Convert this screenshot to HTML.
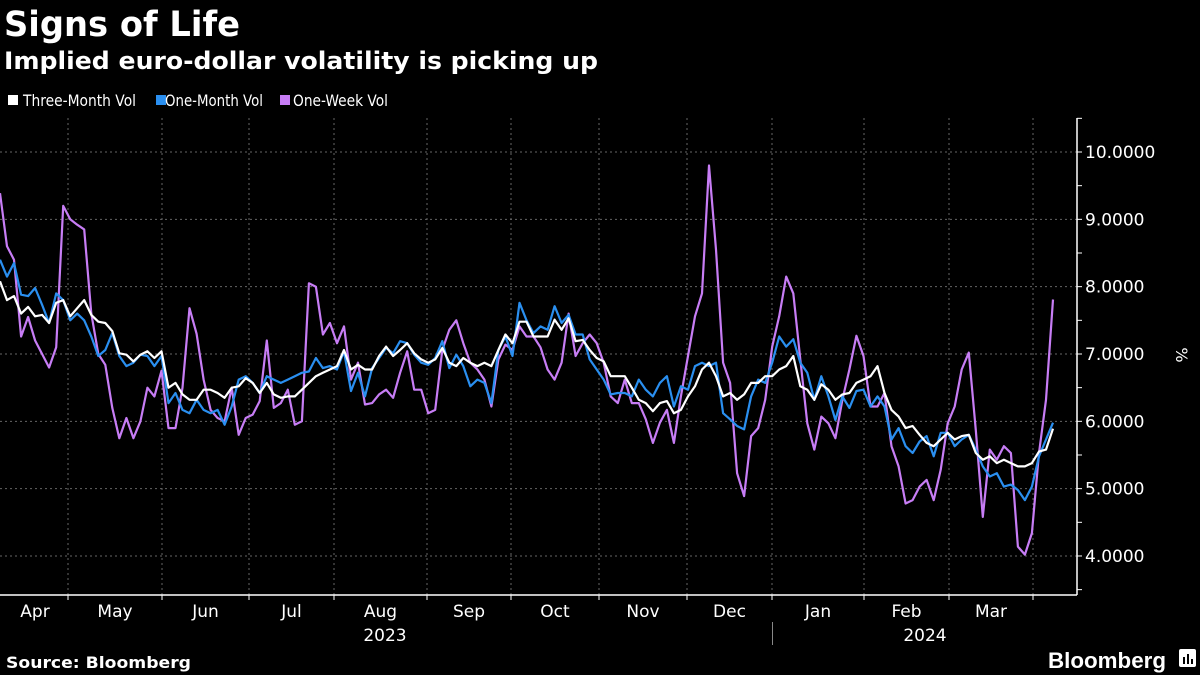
<!DOCTYPE html>
<html><head><meta charset="utf-8"><style>
html,body{margin:0;padding:0;background:#000;}
svg{display:block;font-family:"DejaVu Sans","Liberation Sans",sans-serif;}
</style></head><body>
<svg id="chart" width="1200" height="675" viewBox="0 0 1200 675" xmlns="http://www.w3.org/2000/svg">
<rect width="1200" height="675" fill="#000"/>
<text x="4" y="36" fill="#fff" font-size="35" font-weight="bold" textLength="236" lengthAdjust="spacingAndGlyphs">Signs of Life</text>
<text x="4" y="69" fill="#fff" font-size="24" font-weight="bold" textLength="594" lengthAdjust="spacingAndGlyphs">Implied euro-dollar volatility is picking up</text>
<g font-size="16" fill="#fff">
<g><rect x="8" y="95" width="10" height="10" fill="#fff"/><text x="23" y="106" textLength="113" lengthAdjust="spacingAndGlyphs">Three-Month Vol</text></g>
<g><rect x="156" y="95" width="10" height="10" fill="#2a8ff0"/><text x="165" y="106" textLength="98" lengthAdjust="spacingAndGlyphs">One-Month Vol</text></g>
<g><rect x="280" y="95" width="10" height="10" fill="#c77df5"/><text x="293" y="106" textLength="95" lengthAdjust="spacingAndGlyphs">One-Week Vol</text></g>
</g>
<g id="grid"></g>
<g id="axes"></g>
<g id="series"></g>
<text transform="translate(1176,355) rotate(90)" fill="#fff" font-size="16" text-anchor="middle">%</text>
<line x1="772.5" y1="622" x2="772.5" y2="645" stroke="#888" stroke-width="1"/>
<text x="6" y="668" fill="#fff" font-size="16" font-weight="bold" textLength="185" lengthAdjust="spacingAndGlyphs">Source: Bloomberg</text>
<text x="1048" y="668" fill="#fff" font-size="22" font-weight="bold" font-family="Liberation Sans, sans-serif" textLength="118" lengthAdjust="spacingAndGlyphs">Bloomberg</text>
<g><rect x="1179" y="649" width="17" height="18" rx="2" fill="#fff"/><rect x="1183" y="657" width="2" height="7" fill="#000"/><rect x="1187" y="654" width="2" height="10" fill="#000"/><rect x="1191" y="659" width="2" height="5" fill="#000"/></g>
</svg>
<script>
const months = ["Apr","May","Jun","Jul","Aug","Sep","Oct","Nov","Dec","Jan","Feb","Mar"];
const yTicks = [4,5,6,7,8,9,10];
const yTickLabels = ["4.0000","5.0000","6.0000","7.0000","8.0000","9.0000","10.0000"];
const years = ["2023","2024"];
const threeMonth = [8.08,7.8,7.86,7.6,7.7,7.56,7.58,7.46,7.76,7.8,7.56,7.68,7.8,7.58,7.48,7.46,7.34,7.01,6.99,6.89,6.99,7.04,6.94,7.04,6.5,6.57,6.4,6.32,6.32,6.47,6.47,6.42,6.35,6.5,6.52,6.64,6.57,6.42,6.57,
6.4,6.35,6.37,6.37,6.47,6.57,6.67,6.72,6.77,6.82,7.06,6.77,6.84,6.77,6.77,6.97,7.11,6.97,7.06,7.16,7.01,6.92,6.87,6.92,7.09,6.87,6.82,6.94,6.87,6.82,6.87,6.82,7.06,7.29,7.16,7.48,7.48,
7.26,7.26,7.26,7.51,7.36,7.53,7.19,7.21,7.06,6.94,6.89,6.67,6.67,6.67,6.5,6.32,6.27,6.15,6.27,6.3,6.12,6.17,6.37,6.52,6.77,6.87,6.67,6.37,6.42,6.32,6.4,6.57,6.57,6.67,6.67,6.77,6.82,
6.97,6.52,6.47,6.32,6.55,6.47,6.32,6.4,6.42,6.57,6.62,6.67,6.82,6.42,6.17,6.07,5.9,5.93,5.8,5.68,5.63,5.73,5.83,5.73,5.78,5.8,5.53,5.43,5.48,5.38,5.43,5.38,5.33,5.33,5.38,5.55,5.58,5.89];
const oneMonth = [8.4,8.15,8.35,7.88,7.86,7.98,7.73,7.46,7.9,7.8,7.5,7.6,7.5,7.26,6.97,7.06,7.31,6.97,6.82,6.87,6.99,6.97,6.82,6.97,6.27,6.42,6.17,6.12,6.32,6.17,6.12,6.17,5.95,6.22,6.62,6.67,6.57,6.42,6.67,
6.62,6.57,6.62,6.67,6.72,6.74,6.94,6.79,6.82,6.77,7.04,6.45,6.72,6.37,6.79,6.94,7.09,7.01,7.19,7.16,6.99,6.87,6.84,6.94,7.19,6.79,6.99,6.82,6.52,6.62,6.57,6.27,7.06,7.26,6.97,7.76,7.5,
7.31,7.41,7.36,7.71,7.46,7.58,7.29,7.29,6.92,6.77,6.62,6.4,6.42,6.42,6.37,6.62,6.47,6.37,6.57,6.67,6.22,6.52,6.47,6.82,6.87,6.82,6.87,6.12,6.03,5.93,5.88,6.37,6.62,6.57,6.87,7.26,7.11,
7.22,6.87,6.72,6.32,6.67,6.37,6.02,6.37,6.2,6.45,6.47,6.22,6.37,6.22,5.73,5.9,5.63,5.53,5.7,5.78,5.48,5.83,5.83,5.63,5.73,5.8,5.58,5.33,5.18,5.23,5.03,5.06,4.98,4.83,5.03,5.48,5.73,5.98];
const oneWeek = [9.39,8.6,8.4,7.26,7.55,7.2,7.0,6.8,7.1,9.2,9.0,8.92,8.85,7.6,7.0,6.84,6.2,5.75,6.05,5.75,6.0,6.5,6.37,6.75,5.9,5.9,6.5,7.68,7.3,6.62,6.17,6.05,6.0,6.5,5.8,6.05,6.1,6.3,7.2,
6.2,6.27,6.47,5.95,6.0,8.05,8.0,7.29,7.46,7.16,7.41,6.62,6.87,6.25,6.27,6.4,6.47,6.35,6.72,7.04,6.47,6.47,6.12,6.17,7.06,7.36,7.5,7.16,6.87,6.77,6.62,6.22,6.92,7.14,7.06,7.41,7.26,
7.26,7.1,6.77,6.62,6.87,7.6,6.97,7.16,7.29,7.16,6.87,6.37,6.27,6.62,6.27,6.27,6.03,5.68,5.98,6.17,5.68,6.37,6.97,7.56,7.9,9.8,8.55,6.87,6.57,5.23,4.89,5.78,5.9,6.32,7.11,7.56,8.15,
7.9,6.92,5.97,5.58,6.07,5.97,5.75,6.32,6.77,7.27,6.97,6.22,6.22,6.42,5.63,5.33,4.78,4.83,5.03,5.13,4.83,5.28,5.97,6.22,6.77,7.02,5.87,4.58,5.58,5.43,5.63,5.53,4.14,4.02,4.34,5.53,6.32,7.81];

const X0 = 0, X1 = 1053, PLOT_R = 1077, PLOT_T = 118, PLOT_B = 595;
const monthBounds = [68,162,249,334,427,511,599,687,772,864,949,1033];
function yScale(v){ return 152 + (10 - v) * 67.33; }
function xScale(i, n){ return X0 + (X1 - X0) * i / (n - 1); }
const NS = "http://www.w3.org/2000/svg";
function mk(tag, attrs, parent){ const e = document.createElementNS(NS, tag); for (const k in attrs) e.setAttribute(k, attrs[k]); parent.appendChild(e); return e; }
const grid = document.getElementById('grid'), axes = document.getElementById('axes'), series = document.getElementById('series');

yTicks.forEach((v, k) => {
  const y = yScale(v);
  const gl = mk('line', {x1:0, x2:PLOT_R, y1:y, y2:y, stroke:'#666', 'stroke-dasharray':'2,3', 'stroke-width':1}, grid);
  
  
  const t = mk('text', {x:PLOT_R + 8, y:y + 6, fill:'#fff', 'font-size':17}, axes);
  t.textContent = yTickLabels[k];
  
  
});
for (let v = 3.5; v <= 10.5; v += 0.5) {
  const y = yScale(v);
  if (y < PLOT_T || y > PLOT_B) continue;
  const tk = mk('line', {x1:PLOT_R, x2:PLOT_R + 5, y1:y, y2:y, stroke:'#fff', 'stroke-width':1}, axes);
  
  
}
monthBounds.forEach(x => {
  const gl = mk('line', {x1:x, x2:x, y1:PLOT_T, y2:PLOT_B, stroke:'#666', 'stroke-dasharray':'2,3', 'stroke-width':1}, grid);
  
  
  const tk = mk('line', {x1:x, x2:x, y1:PLOT_B, y2:PLOT_B + 5, stroke:'#fff', 'stroke-width':1}, axes);
  
  
});
const edges = [0].concat(monthBounds);
months.forEach((m, k) => {
  const cx = (edges[k] + edges[k + 1]) / 2 + (k === 0 ? 1 : 0);
  const t = mk('text', {x:cx, y:617, fill:'#fff', 'font-size':17, 'text-anchor':'middle'}, axes);
  t.textContent = m;
  
  
});
[[385, years[0]], [925, years[1]]].forEach(([x, s]) => {
  const t = mk('text', {x:x, y:641, fill:'#fff', 'font-size':17, 'text-anchor':'middle'}, axes);
  t.textContent = s;
  
  
});
const xl = mk('line', {x1:0, x2:PLOT_R, y1:PLOT_B, y2:PLOT_B, stroke:'#fff', 'stroke-width':1.5}, axes);


const yl = mk('line', {x1:PLOT_R, x2:PLOT_R, y1:PLOT_T, y2:PLOT_B, stroke:'#fff', 'stroke-width':1.5}, axes);



function drawLine(vals, color, name){
  const d = vals.map((v, i) => (i ? 'L' : 'M') + xScale(i, vals.length).toFixed(1) + ',' + yScale(v).toFixed(1)).join('');
  const p = mk('path', {d:d, fill:'none', stroke:color, 'stroke-width':2.2, 'stroke-linejoin':'round'}, series);
  
  
}
drawLine(oneWeek, '#c77df5', 'one-week-vol-line');
drawLine(oneMonth, '#2a8ff0', 'one-month-vol-line');
drawLine(threeMonth, '#ffffff', 'three-month-vol-line');
</script>
</body></html>
